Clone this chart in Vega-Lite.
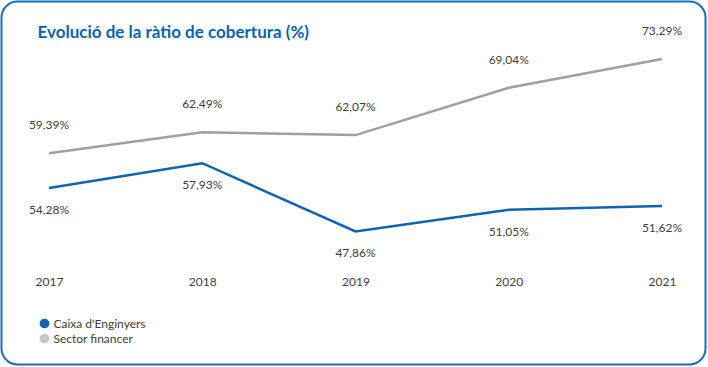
{
  "$schema": "https://vega.github.io/schema/vega-lite/v6.json",
  "width": 704,
  "height": 363,
  "autosize": "none",
  "padding": {"left": 1.5, "top": 1.5, "right": 2.5, "bottom": 2.5},
  "background": "white",
  "title": {
    "text": "Evolució de la ràtio de cobertura (%)",
    "anchor": "start",
    "frame": "group",
    "orient": "top",
    "offset": -53,
    "dx": 36,
    "baseline": "alphabetic",
    "font": "Lato",
    "fontSize": 17,
    "fontWeight": "bold",
    "color": "#0b62b2"
  },
  "data": {
    "values": [
      {"year": "2017", "series": "Caixa d'Enginyers", "value": 54.28, "label": "54,28%"},
      {"year": "2018", "series": "Caixa d'Enginyers", "value": 57.93, "label": "57,93%"},
      {"year": "2019", "series": "Caixa d'Enginyers", "value": 47.86, "label": "47,86%"},
      {"year": "2020", "series": "Caixa d'Enginyers", "value": 51.05, "label": "51,05%"},
      {"year": "2021", "series": "Caixa d'Enginyers", "value": 51.62, "label": "51,62%"},
      {"year": "2017", "series": "Sector financer", "value": 59.39, "label": "59,39%"},
      {"year": "2018", "series": "Sector financer", "value": 62.49, "label": "62,49%"},
      {"year": "2019", "series": "Sector financer", "value": 62.07, "label": "62,07%"},
      {"year": "2020", "series": "Sector financer", "value": 69.04, "label": "69,04%"},
      {"year": "2021", "series": "Sector financer", "value": 73.29, "label": "73,29%"}
    ]
  },
  "encoding": {
    "x": {
      "field": "year",
      "type": "ordinal",
      "scale": {"type": "point", "range": [47.5, 660.5], "padding": 0},
      "axis": {
        "orient": "bottom",
        "offset": -88,
        "domain": false,
        "ticks": false,
        "tickSize": 0,
        "grid": false,
        "title": null,
        "labelAngle": 0,
        "labelPadding": 0,
        "labelBaseline": "top",
        "labelFont": "Lato",
        "labelFontSize": 12,
        "labelColor": "#404040"
      }
    },
    "y": {
      "field": "value",
      "type": "quantitative",
      "scale": {"domain": [45, 75], "range": [249.4, 45.9], "zero": false, "nice": false},
      "axis": null
    }
  },
  "layer": [
    {
      "mark": {"type": "line", "strokeWidth": 2.5},
      "encoding": {
        "color": {
          "field": "series",
          "type": "nominal",
          "scale": {"domain": ["Caixa d'Enginyers", "Sector financer"], "range": ["#1262b0", "#a0a0a0"]},
          "legend": {
            "title": null,
            "orient": "none",
            "legendX": 37,
            "legendY": 316,
            "padding": 0,
            "symbolType": "circle",
            "symbolSize": 95,
            "symbolStrokeWidth": 0,
            "labelFont": "Lato",
            "labelFontSize": 12,
            "labelColor": "#404040",
            "labelOffset": 3,
            "rowPadding": 3,
            "encode": {
              "symbols": {
                "update": {
                  "fill": {"signal": "datum.value === 'Sector financer' ? '#c8c8c8' : '#1262b0'"},
                  "stroke": {"value": "transparent"},
                  "opacity": {"value": 1}
                }
              }
            }
          }
        }
      }
    },
    {
      "transform": [{"filter": "datum.series === 'Sector financer'"}],
      "mark": {"type": "text", "dy": -28, "font": "Lato", "fontSize": 12, "color": "#404040", "baseline": "middle"},
      "encoding": {"text": {"field": "label"}}
    },
    {
      "transform": [{"filter": "datum.series === \"Caixa d'Enginyers\""}],
      "mark": {"type": "text", "dy": 22, "font": "Lato", "fontSize": 12, "color": "#404040", "baseline": "middle"},
      "encoding": {"text": {"field": "label"}}
    }
  ],
  "config": {
    "view": {"stroke": "#1a6fc0", "strokeWidth": 2, "cornerRadius": 16, "fill": "white"}
  }
}
